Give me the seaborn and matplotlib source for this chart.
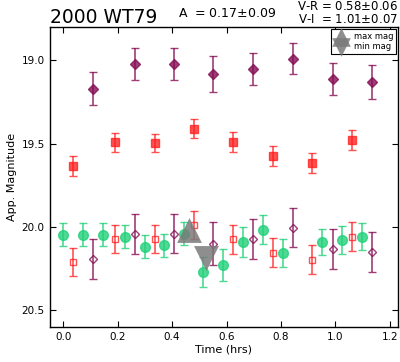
import numpy as np
import matplotlib
matplotlib.use("Agg")
import matplotlib.pyplot as plt
import seaborn as sns

# I band (filled) and I shifted by V-I (open), hrs / mag
t_i = [0.108, 0.265, 0.408, 0.550, 0.697, 0.843, 0.990, 1.136]
i_mag = [19.17, 19.02, 19.02, 19.08, 19.054, 18.99, 19.11, 19.13]
i_err = [0.100, 0.095, 0.095, 0.107, 0.096, 0.092, 0.096, 0.100]
i_shift = [20.19, 20.04, 20.04, 20.10, 20.07, 20.004, 20.13, 20.15]
i_shift_err = [0.120, 0.120, 0.116, 0.130, 0.120, 0.117, 0.120, 0.120]

# R band (filled) and R shifted by V-R (open)
t_r = [0.036, 0.189, 0.336, 0.479, 0.623, 0.771, 0.914, 1.061]
r_mag = [19.633, 19.49, 19.495, 19.41, 19.49, 19.575, 19.615, 19.477]
r_err = [0.061, 0.057, 0.055, 0.058, 0.059, 0.061, 0.059, 0.061]
r_shift = [20.21, 20.07, 20.074, 19.99, 20.074, 20.154, 20.196, 20.058]
r_shift_err = [0.086, 0.084, 0.084, 0.085, 0.086, 0.087, 0.085, 0.085]

# V band
t_v = [0.0, 0.072, 0.145, 0.228, 0.299, 0.372, 0.444, 0.515, 0.587,
       0.662, 0.734, 0.806, 0.950, 1.024, 1.098]
v_mag = [20.046, 20.046, 20.046, 20.058, 20.12, 20.11, 20.04, 20.27, 20.228,
         20.09, 20.016, 20.156, 20.09, 20.078, 20.058]
v_err = [0.067, 0.067, 0.067, 0.067, 0.069, 0.069, 0.071, 0.090, 0.098,
         0.088, 0.085, 0.086, 0.078, 0.083, 0.081]

# lightcurve extremes
t_max, m_max = 0.461, 20.018
t_min, m_min = 0.526, 20.186

target = "2000 WT79"
amp_text = "A  = 0.17$\\pm$0.09"
color_text = "V-R = 0.58$\\pm$0.06\nV-I  = 1.01$\\pm$0.07"

sns.set_style("ticks")
plt.rcParams['font.family'] = ['DejaVu Sans']
plt.rcParams['text.color'] = 'black'
plt.rcParams['axes.labelcolor'] = 'black'
plt.rcParams['axes.edgecolor'] = 'black'
plt.rcParams['xtick.color'] = 'black'
plt.rcParams['ytick.color'] = 'black'
plt.rcParams['xtick.direction'] = 'in'
plt.rcParams['ytick.direction'] = 'in'
plt.rcParams['xtick.top'] = True
plt.rcParams['ytick.right'] = True
plt.rcParams['mathtext.default'] = 'regular'

PURPLE = '#860d55'
RED = '#ff1a1a'
GREEN = '#22d07a'
GREY = '#7a7a7a'

fig = plt.figure(figsize=(4.0, 3.62), dpi=100)
ax = fig.add_axes([0.124, 0.097, 0.871, 0.828])

eb = dict(capsize=3, elinewidth=1.2, capthick=1.0, linestyle='none')

ax.errorbar(t_i, i_mag, yerr=i_err, fmt='D', ms=5.5, color=PURPLE, mec=PURPLE,
            alpha=0.8, **eb)
ax.errorbar(t_r, r_mag, yerr=r_err, fmt='s', ms=5.5, color=RED, mec=RED,
            alpha=0.75, **eb)
ax.errorbar(t_v, v_mag, yerr=v_err, fmt='o', ms=7, color=GREEN, mec=GREEN,
            alpha=0.8, **eb)
ax.errorbar(t_r, r_shift, yerr=r_shift_err, fmt='s', ms=4, mfc='none', mec=RED,
            color=RED, alpha=0.75, **eb)
ax.errorbar(t_i, i_shift, yerr=i_shift_err, fmt='D', ms=4.5, mfc='none', mec=PURPLE,
            color=PURPLE, alpha=0.8, **eb)

sns.scatterplot(x=[t_max], y=[m_max], marker='^', s=320, color=GREY, alpha=0.85,
                linewidth=0, label='max mag', ax=ax, zorder=5)
sns.scatterplot(x=[t_min], y=[m_min], marker='v', s=320, color=GREY, alpha=0.85,
                linewidth=0, label='min mag', ax=ax, zorder=5)

ax.set_xlim(-0.05, 1.23)
ax.set_ylim(20.6, 18.8)
ax.set_xticks([0.0, 0.2, 0.4, 0.6, 0.8, 1.0, 1.2])
ax.set_yticks([19.0, 19.5, 20.0, 20.5])
ax.tick_params(labelsize=7.5, length=4, width=0.8)
for sp in ax.spines.values():
    sp.set_linewidth(1.0)

ax.set_xlabel('Time (hrs)', fontsize=8, labelpad=2)
ax.set_ylabel('App. Magnitude', fontsize=8, labelpad=3)

# titles share one pad, so the amplitude goes in as plain text
ax.set_title(target, loc='left', fontsize=13.5, pad=2.5)
ax.set_title(color_text, loc='right', fontsize=8.5, pad=2.5, linespacing=1.0)
ax.text(0.51, 1.034, amp_text, transform=ax.transAxes, fontsize=9,
        ha='center', va='baseline')

leg = ax.legend(loc='upper right', fontsize=6, markerscale=0.75, frameon=True,
                fancybox=False, edgecolor='black', framealpha=1,
                borderaxespad=0.25, borderpad=0.3, labelspacing=0.2,
                handlelength=1.6, handletextpad=0.8)
leg.get_frame().set_linewidth(0.8)

fig.savefig('out.png', dpi=100)
